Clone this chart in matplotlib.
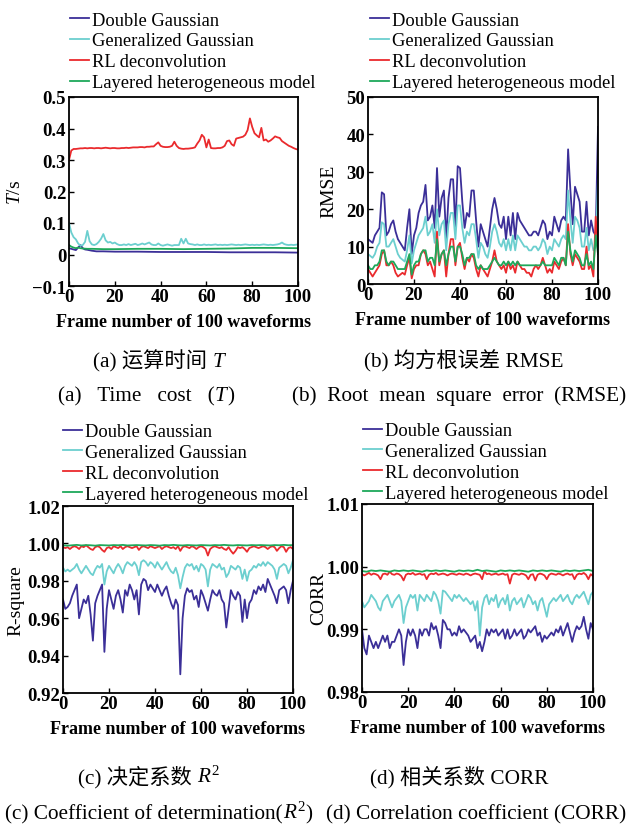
import matplotlib
matplotlib.use("Agg")
import matplotlib.pyplot as plt
import numpy as np

plt.rcParams['font.family'] = ['Liberation Serif', 'Noto Sans CJK SC']
plt.rcParams['mathtext.fontset'] = 'custom'
plt.rcParams['mathtext.rm'] = 'Liberation Serif'
plt.rcParams['mathtext.it'] = 'Liberation Serif:italic'
plt.rcParams['mathtext.bf'] = 'Liberation Serif:bold'

# ---------------- data ----------------
frames = list(range(101))
frames2 = list(range(0, 101, 2))

series_names = ["Double Gaussian", "Generalized Gaussian", "RL deconvolution",
                "Layered heterogeneous model"]
colors = ["#3b2f98", "#6ccfcf", "#ea2a2d", "#1ea85a"]

# (a) Time cost T/s
a_dg_x = [0, 1, 2, 3, 4, 5, 6, 7, 8, 10, 12, 15, 20, 30, 40, 50, 60, 70, 80, 90, 100]
a_dg = [0.020, 0.018, 0.016, 0.014, 0.022, 0.030, 0.020, 0.016, 0.015, 0.012, 0.010,
        0.010, 0.009, 0.009, 0.008, 0.008, 0.008, 0.007, 0.007, 0.007, 0.006]
a_gg = [0.100, 0.070, 0.055, 0.048, 0.035, 0.028, 0.030, 0.040, 0.075, 0.042,
        0.032, 0.030, 0.033, 0.040, 0.050, 0.065, 0.045, 0.038, 0.040, 0.035,
        0.038, 0.033, 0.030, 0.030, 0.032, 0.030, 0.033, 0.030, 0.032, 0.034,
        0.030, 0.032, 0.035, 0.032, 0.035, 0.038, 0.032, 0.030, 0.030, 0.035,
        0.030, 0.028, 0.030, 0.032, 0.030, 0.028, 0.030, 0.030, 0.030, 0.050,
        0.035, 0.050, 0.035, 0.033, 0.032, 0.030, 0.032, 0.030, 0.030, 0.032,
        0.030, 0.031, 0.030, 0.031, 0.032, 0.030, 0.031, 0.030, 0.031, 0.030,
        0.031, 0.032, 0.031, 0.030, 0.031, 0.030, 0.031, 0.032, 0.031, 0.030,
        0.031, 0.030, 0.031, 0.030, 0.031, 0.032, 0.031, 0.030, 0.031, 0.030,
        0.031, 0.032, 0.034, 0.038, 0.033, 0.031, 0.030, 0.031, 0.030, 0.031,
        0.032]
a_rl = [0.300, 0.330, 0.335, 0.335, 0.336, 0.337, 0.337, 0.338, 0.337, 0.338,
        0.338, 0.337, 0.338, 0.338, 0.337, 0.338, 0.339, 0.338, 0.337, 0.338,
        0.338, 0.337, 0.337, 0.338, 0.338, 0.339, 0.338, 0.339, 0.340, 0.340,
        0.340, 0.341, 0.341, 0.340, 0.342, 0.342, 0.343, 0.343, 0.350, 0.356,
        0.345, 0.342, 0.341, 0.341, 0.342, 0.345, 0.358, 0.345, 0.338, 0.336,
        0.335, 0.336, 0.336, 0.337, 0.338, 0.340, 0.352, 0.362, 0.380, 0.372,
        0.340, 0.365, 0.338, 0.337, 0.337, 0.338, 0.338, 0.340, 0.345, 0.360,
        0.362, 0.350, 0.345, 0.368, 0.370, 0.372, 0.374, 0.380, 0.395, 0.432,
        0.405, 0.385, 0.378, 0.372, 0.402, 0.362, 0.365, 0.358, 0.362, 0.368,
        0.375, 0.372, 0.370, 0.360, 0.355, 0.350, 0.345, 0.342, 0.338, 0.335,
        0.333]
a_lh_x = [0, 1, 2, 3, 4, 5, 6, 8, 10, 15, 20, 30, 40, 50, 60, 70, 75, 80, 90, 100]
a_lh = [0.030, 0.025, 0.022, 0.020, 0.022, 0.020, 0.019, 0.018, 0.018, 0.017,
        0.017, 0.018, 0.018, 0.017, 0.018, 0.019, 0.020, 0.021, 0.021, 0.020]

# (b) RMSE
b_dg = [12, 11.5, 11, 13, 14, 15, 24.5, 24, 13, 14,
        16, 17, 14, 12, 11, 10, 9, 15, 20, 8,
        13, 15, 19, 21, 22, 26.5, 17, 18, 21, 15,
        31, 18, 23, 25, 12, 23, 28, 28, 15, 31.5,
        31, 22, 15, 19, 18, 25, 25, 17, 10, 16,
        14, 12, 10, 15, 20, 23, 20, 16, 15, 18,
        12, 18, 13, 19, 12, 19, 17, 16, 15, 14,
        13, 13, 14, 14, 13, 15, 17, 16, 12, 14,
        13, 18, 16, 14, 17, 18, 17, 36, 25, 16,
        26, 24, 22, 14, 14, 22, 13, 17, 14, 13,
        42]
b_gg = [8, 7.5, 7, 8, 10, 11, 16.5, 16, 10, 10,
        11, 12, 10, 8, 7, 6.5, 6, 9, 13, 5.5,
        9, 11, 13, 14, 15, 18, 13, 14, 16, 11,
        20, 13, 16, 17, 9, 16, 19, 19, 12, 21,
        21, 15, 11, 14, 13, 16, 16, 12, 7, 11,
        10, 8, 7, 10, 14, 16, 14, 11, 10, 12,
        9, 12, 9, 13, 9, 13, 12, 11, 10, 10,
        9, 9, 10, 10, 9, 10, 12, 11, 8, 10,
        9, 12, 11, 10, 12, 13, 12, 25, 17, 11,
        18, 17, 15, 10, 10, 15, 9, 12, 9, 10,
        28]
b_rl = [4, 3, 2, 3, 4, 5, 8, 9, 5, 5,
        6, 5, 3, 2, 2.5, 3, 2.5, 5, 7, 1.5,
        4, 5, 5, 8, 9, 8, 5, 6, 4, 2,
        14, 5, 8, 9, 2, 8, 12, 12, 5, 10,
        11, 7, 4, 7, 6, 8, 7, 4, 2, 5,
        4, 3, 2, 4, 6, 9, 6, 5, 4, 5,
        3, 6, 4, 5, 3, 6, 5, 4, 4, 3,
        3, 2, 4, 5, 4, 5, 7, 5, 3, 4,
        3, 6, 5, 4, 6, 7, 5, 16, 8, 5,
        8, 7, 6, 4, 4, 10, 4, 5, 2, 18,
        10]
b_lh = [5, 4, 4, 5, 5, 6, 9, 9, 6, 5,
        6, 6, 5, 4, 4, 4, 4, 6, 8, 2.5,
        5, 6, 6, 8, 9, 9, 6, 7, 7, 5,
        12, 6, 8, 9, 5, 8, 10, 10, 6, 10,
        10, 8, 5, 7, 7, 8, 8, 5, 4, 5,
        4, 4, 4, 5, 6, 7, 6, 5, 5, 6,
        5, 6, 5, 6, 5, 6, 5, 5, 5, 5,
        5, 5, 5, 5, 5, 5, 6, 5, 5, 5,
        5, 7, 6, 5, 7, 7, 5, 14, 9, 6,
        9, 8, 7, 5, 5, 8, 5, 6, 4, 13,
        8]

# (c) R-square
c_dg = [0.970, 0.965, 0.966, 0.968, 0.972, 0.975, 0.978, 0.960, 0.965, 0.970,
        0.968, 0.972, 0.962, 0.948, 0.968, 0.972, 0.975, 0.978, 0.942, 0.965,
        0.975, 0.970, 0.965, 0.972, 0.975, 0.970, 0.963, 0.975, 0.972, 0.978,
        0.975, 0.970, 0.975, 0.962, 0.978, 0.981, 0.980, 0.975, 0.978, 0.976,
        0.974, 0.978, 0.975, 0.972, 0.975, 0.977, 0.972, 0.968, 0.965, 0.970,
        0.967, 0.930, 0.960, 0.972, 0.976, 0.974, 0.975, 0.970, 0.972, 0.966,
        0.975, 0.972, 0.968, 0.964, 0.970, 0.975, 0.973, 0.972, 0.975, 0.970,
        0.968, 0.955, 0.965, 0.975, 0.972, 0.970, 0.974, 0.972, 0.958, 0.970,
        0.960, 0.968, 0.970, 0.975, 0.973, 0.977, 0.975, 0.978, 0.974, 0.981,
        0.978, 0.975, 0.972, 0.968, 0.975, 0.976, 0.977, 0.975, 0.968, 0.975,
        0.980]
c_gg = [0.987, 0.985, 0.986, 0.985, 0.986, 0.987, 0.989, 0.986, 0.984, 0.986,
        0.988, 0.986, 0.984, 0.983, 0.986, 0.988, 0.987, 0.989, 0.978, 0.985,
        0.988, 0.986, 0.984, 0.987, 0.989, 0.987, 0.984, 0.988, 0.990, 0.989,
        0.988, 0.990, 0.988, 0.983, 0.990, 0.991, 0.990, 0.988, 0.990, 0.989,
        0.987, 0.990, 0.988, 0.986, 0.988, 0.990, 0.987, 0.985, 0.984, 0.987,
        0.983, 0.976, 0.982, 0.987, 0.989, 0.988, 0.989, 0.986, 0.988, 0.985,
        0.989, 0.988, 0.986, 0.977, 0.986, 0.989, 0.988, 0.987, 0.989, 0.986,
        0.987, 0.982, 0.984, 0.988, 0.987, 0.986, 0.988, 0.987, 0.981, 0.986,
        0.980, 0.985, 0.986, 0.988, 0.987, 0.989, 0.988, 0.990, 0.988, 0.990,
        0.989, 0.988, 0.986, 0.981, 0.987, 0.988, 0.989, 0.988, 0.984, 0.987,
        0.991]
c_rl = [0.9980, 0.9975, 0.9980, 0.9970, 0.9980, 0.9985, 0.9980, 0.9970, 0.9985, 0.9980,
        0.9990, 0.9980, 0.9970, 0.9965, 0.9980, 0.9985, 0.9980, 0.9965, 0.9955, 0.9975,
        0.9980, 0.9970, 0.9985, 0.9980, 0.9975, 0.9985, 0.9970, 0.9980, 0.9985, 0.9980,
        0.9975, 0.9980, 0.9985, 0.9965, 0.9980, 0.9985, 0.9980, 0.9975, 0.9985, 0.9980,
        0.9975, 0.9980, 0.9985, 0.9970, 0.9980, 0.9985, 0.9980, 0.9975, 0.9980, 0.9970,
        0.9985, 0.9960, 0.9980, 0.9985, 0.9980, 0.9975, 0.9985, 0.9980, 0.9970, 0.9980,
        0.9985, 0.9980, 0.9970, 0.9935, 0.9970, 0.9980, 0.9985, 0.9980, 0.9975, 0.9980,
        0.9970, 0.9965, 0.9980, 0.9960, 0.9945, 0.9960, 0.9980, 0.9975, 0.9980, 0.9970,
        0.9955, 0.9975, 0.9980, 0.9985, 0.9980, 0.9975, 0.9980, 0.9985, 0.9980, 0.9970,
        0.9980, 0.9985, 0.9980, 0.9960, 0.9975, 0.9985, 0.9980, 0.9955, 0.9975, 0.9980,
        0.9970]
c_lh = [0.9990, 0.9988, 0.9990, 0.9992, 0.9989, 0.9991, 0.9990, 0.9988, 0.9991, 0.9990,
        0.9989, 0.9991, 0.9990, 0.9992, 0.9989, 0.9990, 0.9991, 0.9990, 0.9989, 0.9991,
        0.9990, 0.9988, 0.9991, 0.9990, 0.9992, 0.9990, 0.9989, 0.9991, 0.9990, 0.9989,
        0.9991, 0.9990, 0.9989, 0.9991, 0.9990, 0.9992, 0.9990, 0.9989, 0.9991, 0.9990,
        0.9989, 0.9991, 0.9990, 0.9991, 0.9990, 0.9989, 0.9991, 0.9990, 0.9992, 0.9990,
        0.9991]

# (d) CORR
d_dg = [0.9900, 0.9870, 0.9860, 0.9890, 0.9880, 0.9870, 0.9880, 0.9870, 0.9880, 0.9890,
        0.9880, 0.9890, 0.9870, 0.9880, 0.9880, 0.9890, 0.9900, 0.9890, 0.9843, 0.9880,
        0.9900, 0.9890, 0.9900, 0.9890, 0.9870, 0.9900, 0.9890, 0.9900, 0.9900, 0.9890,
        0.9910, 0.9900, 0.9905, 0.9890, 0.9870, 0.9915, 0.9910, 0.9900, 0.9900, 0.9890,
        0.9895, 0.9890, 0.9905, 0.9895, 0.9900, 0.9895, 0.9890, 0.9880, 0.9885, 0.9890,
        0.9870, 0.9880, 0.9865, 0.9880, 0.9900, 0.9890, 0.9900, 0.9895, 0.9900, 0.9890,
        0.9895, 0.9900, 0.9885, 0.9900, 0.9885, 0.9890, 0.9900, 0.9890, 0.9895, 0.9900,
        0.9885, 0.9890, 0.9900, 0.9895, 0.9900, 0.9905, 0.9890, 0.9895, 0.9880, 0.9890,
        0.9885, 0.9890, 0.9895, 0.9890, 0.9900, 0.9895, 0.9905, 0.9890, 0.9900, 0.9910,
        0.9895, 0.9880, 0.9895, 0.9905, 0.9900, 0.9905, 0.9920, 0.9900, 0.9885, 0.9910,
        0.9900]
d_gg = [0.9945, 0.9935, 0.9940, 0.9945, 0.9955, 0.9950, 0.9945, 0.9935, 0.9930, 0.9945,
        0.9950, 0.9955, 0.9945, 0.9935, 0.9945, 0.9950, 0.9955, 0.9945, 0.9910, 0.9935,
        0.9945, 0.9955, 0.9950, 0.9955, 0.9930, 0.9955, 0.9950, 0.9945, 0.9955, 0.9950,
        0.9945, 0.9960, 0.9955, 0.9945, 0.9925, 0.9962, 0.9960, 0.9955, 0.9950, 0.9945,
        0.9955, 0.9950, 0.9955, 0.9950, 0.9945, 0.9950, 0.9945, 0.9940, 0.9945, 0.9930,
        0.9945, 0.9890, 0.9935, 0.9950, 0.9955, 0.9940, 0.9950, 0.9945, 0.9955, 0.9935,
        0.9945, 0.9950, 0.9940, 0.9955, 0.9930, 0.9945, 0.9950, 0.9940, 0.9945, 0.9950,
        0.9935, 0.9945, 0.9955, 0.9950, 0.9940, 0.9945, 0.9930, 0.9945, 0.9950, 0.9935,
        0.9920, 0.9940, 0.9945, 0.9950, 0.9945, 0.9950, 0.9955, 0.9945, 0.9950, 0.9955,
        0.9945, 0.9940, 0.9950, 0.9955, 0.9950, 0.9955, 0.9960, 0.9950, 0.9940, 0.9955,
        0.9960]
d_rl = [0.9988, 0.9986, 0.9988, 0.9990, 0.9987, 0.9989, 0.9988, 0.9986, 0.9980, 0.9988,
        0.9989, 0.9987, 0.9992, 0.9988, 0.9987, 0.9989, 0.9988, 0.9985, 0.9978, 0.9987,
        0.9989, 0.9988, 0.9990, 0.9987, 0.9988, 0.9989, 0.9987, 0.9988, 0.9980, 0.9987,
        0.9989, 0.9988, 0.9990, 0.9987, 0.9988, 0.9989, 0.9988, 0.9986, 0.9988, 0.9989,
        0.9988, 0.9987, 0.9989, 0.9988, 0.9987, 0.9989, 0.9988, 0.9986, 0.9988, 0.9989,
        0.9988, 0.9987, 0.9980, 0.9993, 0.9988, 0.9989, 0.9987, 0.9988, 0.9989, 0.9987,
        0.9988, 0.9989, 0.9987, 0.9988, 0.9973, 0.9987, 0.9989, 0.9988, 0.9987, 0.9989,
        0.9988, 0.9986, 0.9980, 0.9987, 0.9988, 0.9978, 0.9987, 0.9989, 0.9988, 0.9986,
        0.9980, 0.9987, 0.9989, 0.9988, 0.9987, 0.9989, 0.9988, 0.9986, 0.9988, 0.9989,
        0.9987, 0.9988, 0.9980, 0.9987, 0.9989, 0.9988, 0.9990, 0.9987, 0.9980, 0.9988,
        0.9985]
d_lh = [0.9993, 0.9992, 0.9994, 0.9993, 0.9994, 0.9993, 0.9992, 0.9994, 0.9993, 0.9994,
        0.9993, 0.9994, 0.9993, 0.9992, 0.9994, 0.9993, 0.9994, 0.9993, 0.9994, 0.9993,
        0.9992, 0.9994, 0.9993, 0.9994, 0.9993, 0.9995, 0.9993, 0.9994, 0.9993, 0.9992,
        0.9994, 0.9993, 0.9994, 0.9993, 0.9994, 0.9993, 0.9992, 0.9994, 0.9993, 0.9994,
        0.9993, 0.9994, 0.9993, 0.9992, 0.9994, 0.9993, 0.9994, 0.9993, 0.9994, 0.9995,
        0.9993]

# ---------------- figure ----------------
W, H = 628, 829
fig = plt.figure(figsize=(W / 100, H / 100), dpi=100)
fig.patch.set_facecolor("white")


def ax_at(l, t, r, b):
    return fig.add_axes([l / W, 1 - b / H, (r - l) / W, (b - t) / H])


TICK_FS = 13.5
XLAB_FS = 13
YLAB_FS = 14
LEG_FS = 13.3
LW = 1.3


def style(ax, ylim, yticks, yticklabels, ylabel, ylabel_x):
    ax.set_xlim(0, 100)
    ax.set_ylim(*ylim)
    ax.set_xticks([0, 20, 40, 60, 80, 100])
    ax.set_xticklabels(["0", "20", "40", "60", "80", "100"], fontsize=TICK_FS,
                       fontweight="bold")
    ax.set_yticks(yticks)
    ax.set_yticklabels(yticklabels, fontsize=TICK_FS, fontweight="bold")
    ax.tick_params(direction="in", length=3.5, width=1, top=False, right=False)
    ax.tick_params(axis="x", pad=1.5)
    ax.tick_params(axis="y", pad=2)
    for s in ax.spines.values():
        s.set_linewidth(1.3)
    ax.set_xlabel("Frame number of 100 waveforms", fontsize=XLAB_FS, fontweight="bold",
                  labelpad=5.5)
    ax.set_ylabel(ylabel, fontsize=YLAB_FS)
    ax.yaxis.set_label_coords(ylabel_x, 0.5)


def legend(ax, x_px, y_px):
    ax.legend(loc="upper left", bbox_to_anchor=(x_px / W, 1 - y_px / H),
              bbox_transform=fig.transFigure, frameon=False, fontsize=LEG_FS,
              handlelength=1.05, handletextpad=0.12, labelspacing=0.21,
              borderpad=0, borderaxespad=0)


# (a)
ax = ax_at(69, 98, 298, 287)
ax.plot(a_dg_x, a_dg, color=colors[0], lw=LW, label=series_names[0])
ax.plot(frames, a_gg, color=colors[1], lw=LW, label=series_names[1])
ax.plot(frames, a_rl, color=colors[2], lw=LW, label=series_names[2])
ax.plot(a_lh_x, a_lh, color=colors[3], lw=LW, label=series_names[3])
style(ax, (-0.1, 0.5), [-0.1, 0, 0.1, 0.2, 0.3, 0.4, 0.5],
      ["\u22120.1", "0", "0.1", "0.2", "0.3", "0.4", "0.5"], "$T$/s", -0.197)
legend(ax, 70, 12.5)

# (b)
ax = ax_at(368, 98, 598, 285)
ax.plot(frames, b_dg, color=colors[0], lw=LW, label=series_names[0])
ax.plot(frames, b_gg, color=colors[1], lw=LW, label=series_names[1])
ax.plot(frames, b_rl, color=colors[2], lw=LW, label=series_names[2])
ax.plot(frames, b_lh, color=colors[3], lw=LW, label=series_names[3])
style(ax, (0, 50), [0, 10, 20, 30, 40, 50], ["0", "10", "20", "30", "40", "50"],
      "RMSE", -0.135)
legend(ax, 370, 12.5)

# (c)
ax = ax_at(63, 507, 293, 694)
ax.plot(frames, c_dg, color=colors[0], lw=LW, label=series_names[0])
ax.plot(frames, c_gg, color=colors[1], lw=LW, label=series_names[1])
ax.plot(frames, c_rl, color=colors[2], lw=LW, label=series_names[2])
ax.plot(frames2, c_lh, color=colors[3], lw=LW, label=series_names[3])
style(ax, (0.92, 1.02), [0.92, 0.94, 0.96, 0.98, 1.00, 1.02],
      ["0.92", "0.94", "0.96", "0.98", "1.00", "1.02"], "R-square", -0.17)
legend(ax, 63, 424)

# (d)
ax = ax_at(362, 505, 593, 693)
ax.plot(frames, d_dg, color=colors[0], lw=LW, label=series_names[0])
ax.plot(frames, d_gg, color=colors[1], lw=LW, label=series_names[1])
ax.plot(frames, d_rl, color=colors[2], lw=LW, label=series_names[2])
ax.plot(frames2, d_lh, color=colors[3], lw=LW, label=series_names[3])
style(ax, (0.98, 1.01), [0.98, 0.99, 1.00, 1.01], ["0.98", "0.99", "1.00", "1.01"],
      "CORR", -0.152)
legend(ax, 363, 423)

# ---------------- captions ----------------
CAP_FS = 15.3
renderer = fig.canvas.get_renderer()


def caption(x_px, y_base_px, pieces, ha="center"):
    texts = []
    for s, kw in pieces:
        t = fig.text(0, 1 - y_base_px / H, s, fontsize=CAP_FS, va="baseline",
                     ha="left", **kw)
        texts.append(t)
    widths = [t.get_window_extent(renderer).width for t in texts]
    total = sum(widths)
    if ha == "center":
        x = x_px - total / 2
    elif ha == "right":
        x = x_px - total
    else:
        x = x_px
    for t, w in zip(texts, widths):
        t.set_x(x / W)
        x += w


IT = dict(fontstyle="italic")
caption(159, 367, [("(a) 运算时间 ", {}), ("T", IT)])
caption(464, 367, [("(b) 均方根误差 RMSE", {})])
caption(146, 401, [("(a)   Time   cost   (", {}), ("T", IT), (")", {})])
caption(459, 401, [("(b)  Root  mean  square  error  (RMSE)", {})])
caption(149, 783, [("(c) 决定系数 ", {}), ("$R^2$", {})])
caption(459, 783, [("(d) 相关系数 CORR", {})])
caption(5, 819, [("(c) Coefficient of determination(", {}), ("$R^2$", {}), (")", {})],
        ha="left")
caption(626, 819, [("(d) Correlation coefficient (CORR)", {})], ha="right")

fig.savefig("out.png", dpi=100, facecolor="white")
